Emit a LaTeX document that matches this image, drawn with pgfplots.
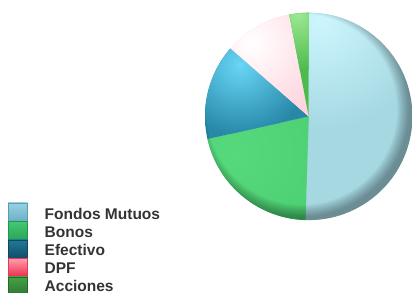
\documentclass[border=0pt]{standalone}
\usepackage{fontspec}
\setmainfont{Liberation Sans}
\usepackage{pgfplots}
\pgfplotsset{compat=1.18}
\usepackage{pgfplotstable}

\definecolor{fmB}{HTML}{A6D8E2}\definecolor{fmH}{HTML}{CCF6FE}
\definecolor{boB}{HTML}{4CCF72}\definecolor{boH}{HTML}{56D87C}
\definecolor{efB}{HTML}{2888A8}\definecolor{efH}{HTML}{68D6F6}
\definecolor{dpB}{HTML}{FFC4D2}\definecolor{dpH}{HTML}{FFFFFF}
\definecolor{acB}{HTML}{4CBA4C}\definecolor{acH}{HTML}{9AE890}
\definecolor{txt}{HTML}{333333}

\pgfplotstableread{
idx value
0 50.5
1 21.0
2 14.9
3 10.6
4 3.0
}\piedata

\gdef\cum{0}
\pgfplotsforeachungrouped \i in {0,...,4}{%
  \pgfplotstablegetelem{\i}{value}\of\piedata
  \pgfmathsetmacro\tmpsa{90-3.6*\cum}%
  \pgfmathsetmacro\tmpcum{\cum+\pgfplotsretval}%
  \pgfmathsetmacro\tmpea{90-3.6*\tmpcum}%
  \expandafter\xdef\csname sa\i\endcsname{\tmpsa}%
  \expandafter\xdef\csname ea\i\endcsname{\tmpea}%
  \xdef\cum{\tmpcum}%
}

\def\cx{308.7}\def\cy{176.6}\def\R{103.7bp}
\def\rx{301.7}\def\ry{183.6}

\newcommand\drawslice[6]{%
  \fill[#2] (axis cs:\cx,\cy) -- ++(\csname sa#1\endcsname:\R) arc[start angle=\csname sa#1\endcsname, end angle=\csname ea#1\endcsname, radius=\R] -- cycle;
  \begin{scope}
    \clip (axis cs:\cx,\cy) -- ++(\csname sa#1\endcsname:\R) arc[start angle=\csname sa#1\endcsname, end angle=\csname ea#1\endcsname, radius=\R] -- cycle;
    \shade[inner color=#3, outer color=#2] (axis cs:#4,#5) circle[radius=#6];
  \end{scope}
}

\begin{document}
\begin{tikzpicture}
\begin{axis}[hide axis, x=1bp, y=1bp, xmin=0, xmax=412, ymin=0, ymax=293,
  scale only axis, clip=false, disabledatascaling]
\coordinate (SW) at (axis cs:0,0);
\coordinate (NE) at (axis cs:412,293);
\drawslice{0}{fmB}{fmH}{320}{273}{110bp}
\drawslice{1}{boB}{boH}{232}{140}{110bp}
\drawslice{2}{efB}{efH}{240}{228}{70bp}
\drawslice{3}{dpB}{dpH}{252}{250}{110bp}
\drawslice{4}{acB}{acH}{298}{278}{56bp}
\begin{scope}
  \clip (axis cs:\cx,\cy) circle[radius=\R];
  \pgfplotsinvokeforeach{0,...,9}{%
    \fill[black, opacity=0.04, even odd rule] (axis cs:\cx,\cy) circle[radius=125bp] (axis cs:\rx,\ry) circle[radius={(1.035-0.0125*#1)*103.7bp}];
  }
\end{scope}
% legend
\shade[top color={rgb,255:red,150;green,210;blue,226}, bottom color={rgb,255:red,106;green,174;blue,196}, draw={rgb,255:red,90;green,156;blue,178}, line width=0.5bp] (axis cs:8,90) rectangle (axis cs:27.5,71.5);
\shade[top color={rgb,255:red,68;green,200;blue,116}, bottom color={rgb,255:red,42;green,164;blue,84}, draw={rgb,255:red,36;green,150;blue,76}, line width=0.5bp] (axis cs:8,71.5) rectangle (axis cs:27.5,53);
\shade[top color={rgb,255:red,32;green,120;blue,154}, bottom color={rgb,255:red,18;green,76;blue,102}, draw={rgb,255:red,16;green,70;blue,94}, line width=0.5bp] (axis cs:8,53) rectangle (axis cs:27.5,34.5);
\shade[top color={rgb,255:red,255;green,158;blue,172}, bottom color={rgb,255:red,240;green,40;blue,72}, draw={rgb,255:red,220;green,60;blue,90}, line width=0.5bp] (axis cs:8,34.5) rectangle (axis cs:27.5,16);
\shade[top color={rgb,255:red,70;green,162;blue,70}, bottom color={rgb,255:red,44;green,118;blue,46}, draw={rgb,255:red,40;green,105;blue,42}, line width=0.5bp] (axis cs:8,16) rectangle (axis cs:27.5,-2.5);
\begin{scope}[every node/.style={anchor=base west, inner sep=0pt, text=txt, font=\bfseries\fontsize{15.5bp}{18bp}\selectfont}]
\node at (axis cs:44.5,73.4) {Fondos Mutuos};
\node at (axis cs:44.5,55.4) {Bonos};
\node at (axis cs:44.5,37.6) {Efectivo};
\node at (axis cs:44.5,19.6) {DPF};
\node at (axis cs:44.5,2.0) {Acciones};
\end{scope}
\end{axis}
\pgfresetboundingbox
\useasboundingbox (SW) rectangle (NE);
\end{tikzpicture}
\end{document}
